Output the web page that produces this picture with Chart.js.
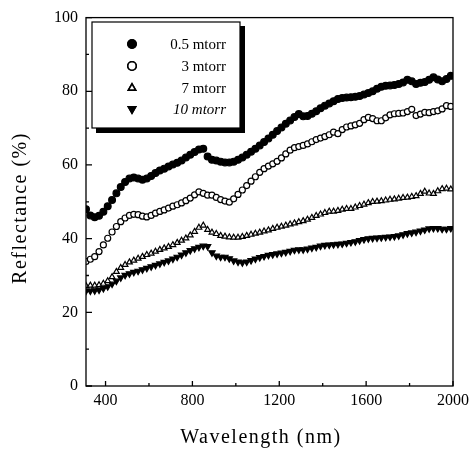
<!DOCTYPE html>
<html>
<head>
<meta charset="utf-8">
<script src="https://cdn.jsdelivr.net/npm/chart.js@4.4.1/dist/chart.umd.min.js"></script>
<style>
    html, body { margin: 0; padding: 0; background: #fff; }
</style>
</head>
<body>
<canvas id="reflChart" width="474" height="451"></canvas>
<script>
// wavelength (nm), one marker every 20 nm
const wavelengths = [
    310, 330, 350, 370, 390, 410, 430, 450, 470, 490, 510, 530, 550, 570, 590, 610, 630,
    650, 670, 690, 710, 730, 750, 770, 790, 810, 830, 850, 870, 890, 910, 930, 950, 970,
    990, 1010, 1030, 1050, 1070, 1090, 1110, 1130, 1150, 1170, 1190, 1210, 1230, 1250,
    1270, 1290, 1310, 1330, 1350, 1370, 1390, 1410, 1430, 1450, 1470, 1490, 1510, 1530,
    1550, 1570, 1590, 1610, 1630, 1650, 1670, 1690, 1710, 1730, 1750, 1770, 1790, 1810,
    1830, 1850, 1870, 1890, 1910, 1930, 1950, 1970, 1990
];

const refl05 = [
    48.0, 46.3, 45.8, 46.2, 47.3, 48.8, 50.5, 52.3, 54.0, 55.4, 56.3, 56.6, 56.3, 56.0, 56.3, 57.0, 57.8,
    58.5, 59.0, 59.6, 60.1, 60.6, 61.2, 62.0, 62.8, 63.5, 64.2, 64.4, 62.3, 61.4, 61.2, 60.9, 60.7, 60.7,
    60.9, 61.4, 62.0, 62.8, 63.6, 64.4, 65.3, 66.2, 67.2, 68.2, 69.2, 70.2, 71.2, 72.1,
    73.0, 73.8, 73.2, 73.3, 73.9, 74.6, 75.4, 76.1, 76.7, 77.3, 77.9, 78.2, 78.3, 78.4,
    78.5, 78.7, 79.1, 79.5, 80.0, 80.7, 81.2, 81.5, 81.6, 81.7, 82.0, 82.4, 83.1, 82.7,
    82.0, 82.3, 82.5, 83.1, 83.8, 83.2, 82.7, 83.3, 84.2
];

const refl3 = [
    33.8, 34.4, 35.1, 36.5, 38.3, 40.1, 41.8, 43.3, 44.6, 45.6, 46.3, 46.6, 46.5, 46.1, 45.9, 46.3, 46.9,
    47.4, 47.8, 48.3, 48.8, 49.2, 49.7, 50.3, 51.0, 51.9, 52.7, 52.3, 51.8, 51.8, 51.2, 50.6, 50.2, 49.9,
    50.8, 52.0, 53.2, 54.4, 55.6, 56.8, 58.0, 59.0, 59.7, 60.3, 61.0, 61.9, 63.0, 64.0,
    64.7, 65.0, 65.3, 65.7, 66.3, 66.9, 67.3, 67.7, 68.2, 68.9, 68.5, 69.6, 70.3, 70.6,
    70.9, 71.3, 72.3, 72.9, 72.6, 72.0, 72.0, 72.8, 73.6, 73.9, 74.0, 74.1, 74.5, 75.1,
    73.4, 73.8, 74.3, 74.2, 74.5, 74.7, 75.2, 76.1, 75.9
];

const refl7 = [
    27.2, 27.3, 27.3, 27.4, 27.8, 28.5, 29.6, 31.0, 32.1, 32.9, 33.6, 34.1, 34.6, 35.1, 35.6, 36.0, 36.5,
    37.0, 37.4, 37.8, 38.3, 38.9, 39.5, 40.1, 40.9, 41.9, 43.0, 43.6, 42.4, 41.7, 41.3, 40.8, 40.6, 40.4,
    40.3, 40.3, 40.5, 40.8, 41.1, 41.4, 41.7, 42.0, 42.3, 42.7, 43.0, 43.3, 43.6, 43.9,
    44.2, 44.5, 44.8, 45.2, 45.7, 46.2, 46.6, 47.0, 47.4, 47.4, 47.6, 47.9, 48.1, 48.1,
    48.5, 48.9, 49.3, 49.7, 50.0, 50.1, 50.2, 50.4, 50.6, 50.7, 50.9, 51.1, 51.2, 51.4,
    51.6, 52.2, 52.8, 52.3, 52.2, 52.9, 53.5, 53.6, 53.4
];

const refl10 = [
    25.8, 25.8, 25.9, 26.1, 26.5, 27.0, 27.7, 28.5, 29.4, 30.1, 30.5, 30.9, 31.2, 31.6, 32.0, 32.4, 32.8,
    33.2, 33.6, 34.0, 34.5, 35.0, 35.6, 36.2, 36.8, 37.3, 37.7, 38.0, 37.9, 36.2, 35.3, 35.0, 35.0, 34.6,
    34.0, 33.7, 33.5, 33.7, 34.1, 34.5, 34.9, 35.2, 35.5, 35.7, 35.9, 36.1, 36.3, 36.6,
    36.9, 37.0, 37.0, 37.2, 37.5, 37.7, 38.0, 38.2, 38.3, 38.4, 38.5, 38.6, 38.8, 39.0,
    39.2, 39.5, 39.8, 40.0, 40.1, 40.2, 40.3, 40.4, 40.5, 40.6, 40.8, 41.1, 41.4, 41.6,
    41.8, 42.1, 42.4, 42.7, 42.8, 42.8, 42.6, 42.6, 42.8
];

const seriesLabels = ["0.5 mtorr", "3 mtorr", "7 mtorr", "10 mtorr"];
const xTicks = [400, 800, 1200, 1600, 2000];
const xMinorTicks = [600, 1000, 1400, 1800];
const yTicks = [0, 20, 40, 60, 80, 100];
const yMinorTicks = [10, 30, 50, 70, 90];

const FONT = "'Liberation Serif', 'DejaVu Serif', serif";

function toPoints(values) {
    return values.map((v, i) => ({ x: wavelengths[i], y: v }));
}

// inward tick marks, box frame, axis titles and the boxed legend
const framePlugin = {
    id: "frame",
    afterDatasetsDraw(chart) {
        const { ctx, chartArea: a, scales } = chart;
        ctx.save();
        ctx.strokeStyle = "#000";
        ctx.lineWidth = 1.3;
        ctx.strokeRect(a.left, a.top, a.right - a.left, a.bottom - a.top);

        ctx.beginPath();
        xTicks.forEach((v) => {
            const px = scales.x.getPixelForValue(v);
            ctx.moveTo(px, a.bottom);
            ctx.lineTo(px, a.bottom - 5);
        });
        xMinorTicks.forEach((v) => {
            const px = scales.x.getPixelForValue(v);
            ctx.moveTo(px, a.bottom);
            ctx.lineTo(px, a.bottom - 3);
        });
        yTicks.forEach((v) => {
            const py = scales.y.getPixelForValue(v);
            ctx.moveTo(a.left, py);
            ctx.lineTo(a.left + 6, py);
        });
        yMinorTicks.forEach((v) => {
            const py = scales.y.getPixelForValue(v);
            ctx.moveTo(a.left, py);
            ctx.lineTo(a.left + 3, py);
        });
        ctx.stroke();

        // axis titles
        ctx.fillStyle = "#000";
        ctx.textAlign = "center";
        ctx.textBaseline = "middle";
        ctx.font = "20px " + FONT;
        ctx.letterSpacing = "1.5px";
        ctx.fillText("Wavelength (nm)", 261, 438);
        ctx.translate(21, 208);
        ctx.rotate(-Math.PI / 2);
        ctx.fillText("Reflectance (%)", 0, 0);
        ctx.restore();

        // legend box with drop shadow
        ctx.save();
        const bx = 92, by = 22, bw = 148, bh = 106;
        ctx.fillStyle = "#000";
        ctx.fillRect(bx + 4, by + 4, bw + 1, bh + 1);
        ctx.fillStyle = "#fff";
        ctx.fillRect(bx, by, bw, bh);
        ctx.strokeStyle = "#000";
        ctx.lineWidth = 1.2;
        ctx.strokeRect(bx, by, bw, bh);

        const rowY = [44, 66, 88, 109];
        chart.data.datasets.forEach((ds, i) => {
            Chart.helpers.drawPoint(ctx, {
                pointStyle: ds.pointStyle,
                rotation: ds.rotation || 0,
                radius: 4.2,
                borderWidth: 1.6
            }, 132, rowY[i]);
            ctx.fillStyle = ds.pointBackgroundColor;
            ctx.strokeStyle = "#000";
            ctx.lineWidth = 1.6;
            ctx.fill();
            ctx.stroke();

            ctx.fillStyle = "#000";
            ctx.textAlign = "right";
            ctx.textBaseline = "middle";
            ctx.font = (i === 3 ? "italic " : "") + "15px " + FONT;
            ctx.fillText(seriesLabels[i], 226, rowY[i] + 1);
        });
        ctx.restore();
    }
};

const baseSet = {
    showLine: false,
    pointBorderWidth: 1.2,
    pointBorderColor: "#000"
};

const ctx = document.getElementById("reflChart").getContext("2d");

new Chart(ctx, {
    type: "scatter",
    data: {
        datasets: [
            { ...baseSet, label: seriesLabels[0], data: toPoints(refl05), pointStyle: "circle", pointRadius: 3.4, pointBackgroundColor: "#000" },
            { ...baseSet, label: seriesLabels[1], data: toPoints(refl3), pointStyle: "circle", pointRadius: 3, pointBackgroundColor: "#fff" },
            { ...baseSet, label: seriesLabels[2], data: toPoints(refl7), pointStyle: "triangle", pointRadius: 3.3, pointBackgroundColor: "#fff" },
            { ...baseSet, label: seriesLabels[3], data: toPoints(refl10), pointStyle: "triangle", rotation: 180, pointRadius: 3.6, pointBackgroundColor: "#000" }
        ]
    },
    options: {
        responsive: false,
        animation: false,
        layout: { padding: { left: 0, top: 13, right: 20, bottom: 0 } },
        plugins: {
            legend: { display: false },
            tooltip: { enabled: false }
        },
        scales: {
            x: {
                type: "linear",
                min: 310,
                max: 2000,
                afterBuildTicks: (scale) => {
                    scale.ticks = xTicks.map((v) => ({ value: v }));
                },
                afterFit: (scale) => {
                    scale.height = 65;
                },
                grid: { display: false, drawTicks: false },
                border: { display: false },
                ticks: {
                    color: "#000",
                    padding: 5,
                    font: { family: FONT, size: 16 },
                    callback: (v) => String(v)
                }
            },
            y: {
                min: 0,
                max: 100,
                afterBuildTicks: (scale) => {
                    scale.ticks = yTicks.map((v) => ({ value: v }));
                },
                afterFit: (scale) => {
                    scale.width = 86;
                },
                grid: { display: false, drawTicks: false },
                border: { display: false },
                ticks: {
                    color: "#000",
                    padding: 8,
                    font: { family: FONT, size: 16 },
                    callback: (v) => String(v)
                }
            }
        }
    },
    plugins: [framePlugin]
});
</script>
</body>
</html>
